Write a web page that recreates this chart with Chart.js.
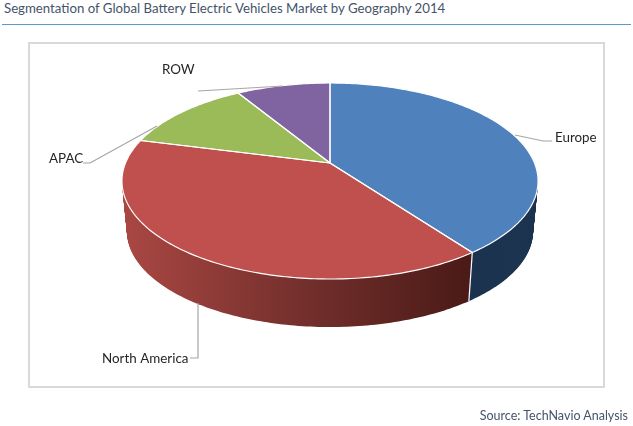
<!DOCTYPE html>
<html>
<head>
<meta charset="utf-8">
<script src="https://cdn.jsdelivr.net/npm/chart.js@4"></script>
<style>
    html, body { margin: 0; padding: 0; background: #fff; }
    #page { position: relative; width: 633px; height: 426px; overflow: hidden; font-family: Lato, sans-serif; }
    #title { position: absolute; left: 4px; top: -1px; font-size: 14px; line-height: 18px; color: #44546a; white-space: nowrap; transform: scaleX(0.944); transform-origin: left top; }
    #rule { position: absolute; left: 2px; right: 2px; top: 24px; height: 1px; background: #5b9bc8; }
    #frame { position: absolute; left: 28px; top: 42px; width: 573px; height: 342px; border: 2px solid #d9d9d9; }
    #source { position: absolute; right: 5px; top: 408px; font-size: 12.5px; line-height: 16px; color: #44546a; white-space: nowrap; }
    canvas { position: absolute; left: 0; top: 0; }
</style>
</head>
<body>
<div id="page">
    <div id="title">Segmentation of Global Battery Electric Vehicles Market by Geography 2014</div>
    <div id="rule"></div>
    <div id="frame"></div>
    <canvas id="chart" width="633" height="426"></canvas>
    <div id="source">Source: TechNavio Analysis</div>
</div>
<script>
const categories = ['Europe', 'North America', 'APAC', 'ROW'];
const shares = [39.9, 39.1, 12.3, 8.7];
const topColors = ['#4f81bd', '#c0504d', '#9bbb59', '#8064a2'];
const sideColors = ['#1c3450', null, '#5f7336', '#4d3c62'];
const redSideStops = ['#aa4743', '#75302d', '#4a1a16'];

// label anchors and leader lines, by category
const labelSpots = [[555, 138], [102, 359], [49, 159], [162, 70]];
const leaders = [
    [[515, 135], [543, 141], [552, 141]],
    [[198, 303], [198, 358], [190, 358]],
    [[157, 126], [90, 163], [83, 163]],
    [[283, 86], [198, 91]]
];

// the pie seen in perspective: a unit disc is mapped to the tilted ellipse
const view = { x: 330, y: 163, a: 204.5, b: 94.7, k: 0.1837, drop: 50.8, shrink: 0.024 };

function project(angle, t) {
    const u = Math.cos(angle), v = Math.sin(angle);
    return projectUV(u, v, t);
}

function projectUV(u, v, t) {
    const w = 1 - view.k * v;
    const s = 1 - view.shrink * t;
    return [view.x + s * view.a * u / w, view.y + view.drop * t + s * view.b * v / w];
}

function tracePath(ctx, el, t) {
    const steps = Math.max(8, Math.ceil((el.endAngle - el.startAngle) * 60));
    const c = projectUV(0, 0, t);
    ctx.beginPath();
    ctx.moveTo(c[0], c[1]);
    for (let i = 0; i <= steps; i++) {
        const p = project(el.startAngle + (el.endAngle - el.startAngle) * i / steps, t);
        ctx.lineTo(p[0], p[1]);
    }
    ctx.closePath();
}

const pie3d = {
    id: 'pie3d',
    beforeDatasetDraw(chart) {
        const ctx = chart.ctx;
        const arcs = chart.getDatasetMeta(0).data;

        const redSide = ctx.createLinearGradient(123, 0, 472, 0);
        redSide.addColorStop(0, redSideStops[0]);
        redSide.addColorStop(0.5, redSideStops[1]);
        redSide.addColorStop(1, redSideStops[2]);

        // side wall, stacked from the bottom up
        const layers = 70;
        for (let n = layers; n > 0; n--) {
            arcs.forEach((el, i) => {
                tracePath(ctx, el, n / layers);
                ctx.fillStyle = sideColors[i] || redSide;
                ctx.fill();
            });
        }

        // white seam on the wall between Europe and North America
        const a = project(arcs[0].endAngle, 0);
        const b = project(arcs[0].endAngle, 1);
        ctx.strokeStyle = '#fff';
        ctx.lineWidth = 1.2;
        ctx.beginPath();
        ctx.moveTo(a[0], a[1]);
        ctx.lineTo(b[0], b[1]);
        ctx.stroke();

        // top face
        arcs.forEach((el) => {
            tracePath(ctx, el, 0);
            ctx.fillStyle = el.options.backgroundColor;
            ctx.fill();
        });
        arcs.forEach((el) => {
            tracePath(ctx, el, 0);
            ctx.strokeStyle = '#fff';
            ctx.lineWidth = 1.2;
            ctx.lineJoin = 'round';
            ctx.stroke();
        });
        return false;
    },
    afterDatasetsDraw(chart) {
        const ctx = chart.ctx;
        ctx.save();
        ctx.strokeStyle = '#a6a6a6';
        ctx.lineWidth = 1.2;
        leaders.forEach((line) => {
            ctx.beginPath();
            line.forEach((p, i) => (i ? ctx.lineTo(p[0], p[1]) : ctx.moveTo(p[0], p[1])));
            ctx.stroke();
        });
        ctx.fillStyle = '#262626';
        ctx.font = '13.4px Lato, sans-serif';
        ctx.textBaseline = 'middle';
        categories.forEach((name, i) => {
            ctx.fillText(name, labelSpots[i][0], labelSpots[i][1]);
        });
        ctx.restore();
    }
};

new Chart(document.getElementById('chart'), {
    type: 'pie',
    data: {
        labels: categories,
        datasets: [{ data: shares, backgroundColor: topColors, borderColor: '#fff', borderWidth: 1 }]
    },
    options: {
        responsive: false,
        animation: false,
        layout: { padding: { left: 122, right: 94, top: 0, bottom: 110 } },
        plugins: { legend: { display: false }, tooltip: { enabled: false } }
    },
    plugins: [pie3d]
});
</script>
</body>
</html>
